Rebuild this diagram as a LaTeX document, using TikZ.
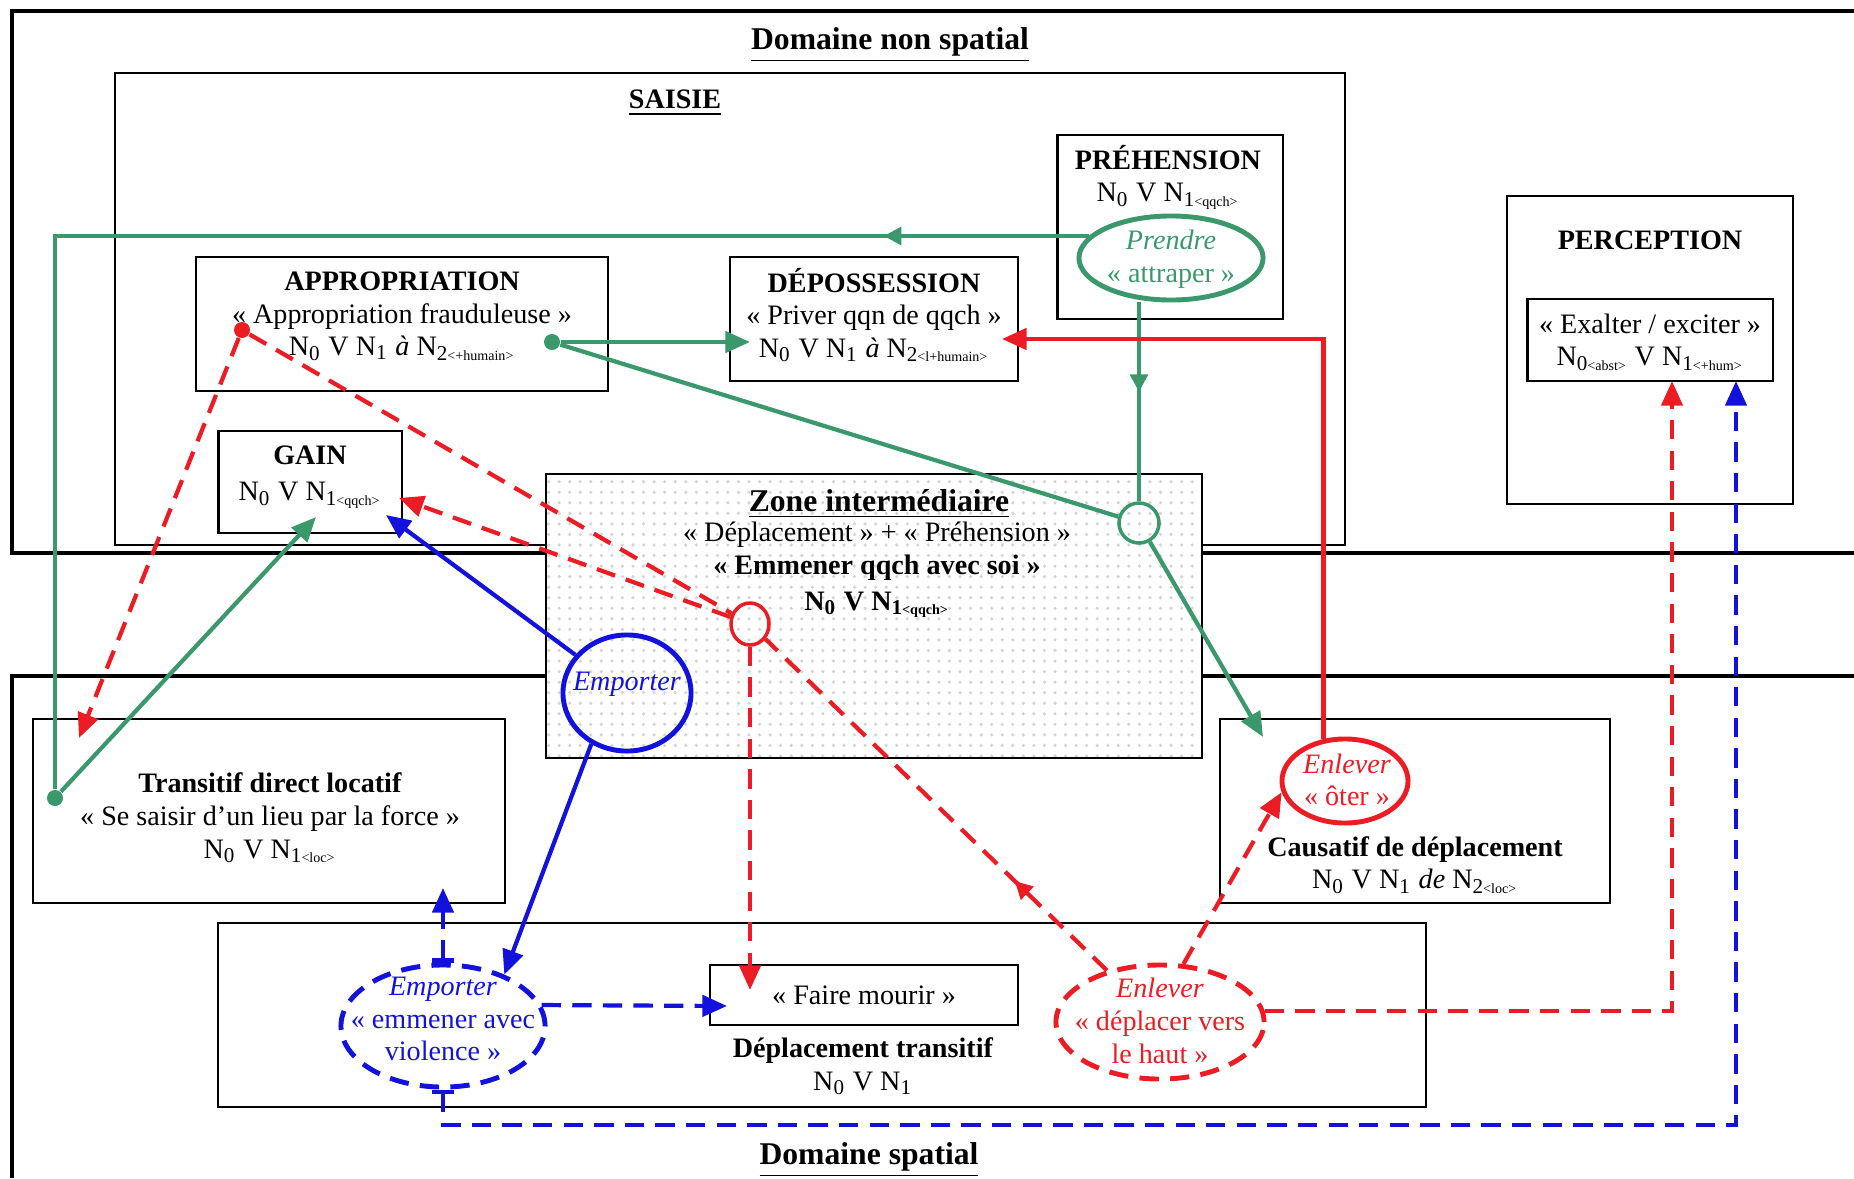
\documentclass[tikz,border=0pt]{standalone}
\usepackage{fontspec}
\setmainfont{Liberation Serif}
\usepackage{tikz}
\usetikzlibrary{arrows.meta, shapes.geometric, patterns, decorations.markings}
\definecolor{vertS}{RGB}{58,152,108}
\definecolor{rougeS}{RGB}{236,28,36}
\definecolor{bleuS}{RGB}{18,18,220}
\newcommand{\sousind}[2]{\textsubscript{#1{\fontsize{4}{4}\selectfont #2}}}

\begin{document}
\begin{tikzpicture}[
  x=0.01cm, y=-0.01cm,
  cadre/.style={line width=1.4pt, draw=black},
  boite/.style={draw, line width=0.6pt, rectangle, inner sep=0pt},
  txt/.style={align=center, font=\fontsize{8}{9.3}\selectfont, inner sep=0pt},
  titre/.style={font=\fontsize{9}{11}\selectfont\bfseries, inner sep=0pt},
  ell/.style={ellipse, inner sep=0pt, line width=1.4pt},
  pastille/.style={circle, inner sep=0pt, minimum size=0.16cm},
  trait/.style={line width=1.2pt},
  pointille/.style={dash pattern=on 5.5pt off 3.2pt},
  fleche/.style={-{Triangle[length=7pt,width=6pt]}},
  flechemil/.style={postaction={decorate}, decoration={markings,
      mark=at position #1 with {\arrow{Triangle[length=5pt,width=5pt]}}}}
]
  \useasboundingbox (0,0) rectangle (1854,1178);

  \draw[cadre] (1854,11) -- (12,11) -- (12,553) -- (1854,553);
  \draw[cadre] (1854,676) -- (12,676) -- (12,1178);
  \node[titre] (domNS) at (890,45) {\underline{Domaine non spatial}};
  \node[titre] (domS) at (869,1160) {\underline{Domaine spatial}};

  \node[boite, minimum width=12.30cm, minimum height=4.72cm] (saisie) at (730,309) {};
  \node[txt, font=\fontsize{8}{9.3}\selectfont\bfseries] (saisieT) at (675,103) {\underline{SAISIE}};
  \node[boite, minimum width=2.25cm, minimum height=1.84cm] (preh) at (1170,227) {};
  \node[boite, minimum width=4.11cm, minimum height=1.34cm] (appr) at (402,324) {};
  \node[boite, minimum width=2.88cm, minimum height=1.24cm] (dep) at (874,319) {};
  \node[boite, minimum width=1.83cm, minimum height=1.02cm] (gain) at (310,482) {};
  \node[boite, minimum width=2.86cm, minimum height=3.08cm] (percO) at (1650,350) {};
  \node[boite, minimum width=2.45cm, minimum height=0.82cm] (percI) at (1650,340) {};
  \node[boite, preaction={fill=white}, pattern=dots, pattern color=black!17,
        minimum width=6.56cm, minimum height=2.84cm] (zone) at (874,616) {};
  \node[boite, minimum width=4.72cm, minimum height=1.84cm] (trans) at (269,811) {};
  \node[boite, minimum width=3.89cm, minimum height=1.84cm] (caus) at (1415,811) {};
  \node[boite, minimum width=12.08cm, minimum height=1.84cm] (depl) at (822,1015) {};
  \node[boite, txt, minimum width=3.08cm, minimum height=0.60cm] (fm) at (864,995) {« Faire mourir »};

  \node[txt] (prehT) at (1168,177) {\textbf{PRÉHENSION}\\N\textsubscript{0} V N\sousind{1}{<qqch>}};
  \node[txt, text=vertS] (prendreT) at (1171,259) {\textit{Prendre}\\« attraper »};
  \node[txt] (apprT) at (402,316) {\textbf{APPROPRIATION}\\« Appropriation frauduleuse »\\N\textsubscript{0} V N\textsubscript{1} \textit{à} N\sousind{2}{<+humain>}};
  \node[txt] (depT) at (874,315) {\textbf{DÉPOSSESSION}\\« Priver qqn de qqch »\\N\textsubscript{0} V N\textsubscript{1} \textit{à} N\sousind{2}{<l+humain>}};
  \node[txt] (gainT) at (310,477) {\textbf{GAIN}\\[1pt]N\textsubscript{0} V N\sousind{1}{<qqch>}};
  \node[txt, font=\fontsize{8}{9.3}\selectfont\bfseries] (percT) at (1650,240) {PERCEPTION};
  \node[txt] (percIT) at (1650,342) {« Exalter / exciter »\\N\sousind{0}{<abst>} V N\sousind{1}{<+hum>}};
  \node[titre] (zoneT) at (879,504) {\underline{Zone intermédiaire}};
  \node[txt] (zoneT2) at (877,570) {« Déplacement » + « Préhension »\\\textbf{« Emmener qqch avec soi »}\\[1pt]\textbf{N\textsubscript{0} V N\sousind{1}{<qqch>}}};
  \node[txt, text=bleuS] (empT) at (627,684) {\textit{Emporter}};
  \node[txt] (transT) at (270,818) {\textbf{Transitif direct locatif}\\« Se saisir d’un lieu par la force »\\N\textsubscript{0} V N\sousind{1}{<loc>}};
  \node[txt] (causT) at (1415,865) {\textbf{Causatif de déplacement}\\N\textsubscript{0} V N\textsubscript{1} \textit{de} N\sousind{2}{<loc>}};
  \node[txt, text=rougeS] (enleverT) at (1347,780) {\textit{Enlever}\\« ôter »};
  \node[txt] (deplT) at (863,1066) {\textbf{Déplacement transitif}\\N\textsubscript{0} V N\textsubscript{1}};
  \node[txt, text=bleuS] (empDT) at (443,1019) {\textit{Emporter}\\« emmener avec\\violence »};
  \node[txt, text=rougeS] (enlDT) at (1160,1021) {\textit{Enlever}\\« déplacer vers\\le haut »};

  \node[ell, draw=vertS, minimum width=1.84cm, minimum height=0.84cm] (prendre) at (1171,258) {};
  \node[ell, draw=rougeS, minimum width=1.26cm, minimum height=0.84cm] (enlever) at (1345,781) {};
  \node[ell, draw=bleuS, minimum width=1.28cm, minimum height=1.16cm] (emp) at (627,693) {};
  \node[ell, draw=bleuS, pointille, minimum width=2.04cm, minimum height=1.22cm] (empD) at (443,1026) {};
  \node[ell, draw=rougeS, pointille, minimum width=2.08cm, minimum height=1.14cm] (enlD) at (1160,1022) {};
  \node[ell, draw=vertS, line width=1pt, minimum width=0.40cm, minimum height=0.40cm] (cvert) at (1139,523) {};
  \node[ell, draw=rougeS, line width=1pt, minimum width=0.38cm, minimum height=0.42cm] (cRouge) at (750,624) {};
  \node[pastille, fill=vertS] (dotA) at (552,342) {};
  \node[pastille, fill=vertS] (dotT) at (55,798) {};
  \node[pastille, fill=rougeS] (dotR) at (242,330) {};

  \coordinate (gainG) at (316,517);
  \coordinate (gainR) at (399,498);
  \coordinate (gainB) at (386,515);
  \coordinate (depG) at (750,342);
  \coordinate (depR) at (1002,339);
  \coordinate (causG) at (1263,737);
  \coordinate (transR) at (79,738);
  \coordinate (transB) at (443,888);
  \coordinate (fmR) at (750,990);
  \coordinate (fmB) at (727,1006);
  \coordinate (percR) at (1672,381);
  \coordinate (percB) at (1736,381);
  \coordinate (coinB) at (1736,1125);

  \draw[trait, vertS, flechemil=2.05cm] (prendre.165) -| (dotT);
  \draw[trait, vertS, fleche] (dotT) -- (gainG);
  \draw[trait, vertS, fleche] (dotA) -- (depG);
  \draw[trait, vertS] (dotA) -- (cvert);
  \draw[trait, vertS, fleche] (cvert) -- (causG);
  \draw[trait, vertS, flechemil=0.45] (cvert |- prendre.south) -- (cvert);

  \draw[trait, rougeS, fleche] (enlever.117) |- (depR);
  \draw[trait, rougeS, pointille, fleche] (dotR) -- (transR);
  \draw[trait, rougeS, pointille] (dotR) -- (cRouge);
  \draw[trait, rougeS, pointille, fleche] (cRouge) -- (gainR);
  \draw[trait, rougeS, pointille, fleche] (cRouge) -- (fmR);
  \draw[trait, rougeS, pointille, flechemil=0.27] (enlD) -- (cRouge);
  \draw[trait, rougeS, pointille, fleche] (enlD.68) -- (enlever.190);
  \draw[trait, rougeS, pointille, fleche] (enlD.6) -| (percR);

  \draw[trait, bleuS, fleche] (emp) -- (gainB);
  \draw[trait, bleuS, fleche] (emp.235) -- (empD.40);
  \draw[trait, bleuS, pointille, {Bar[width=6pt]}-{Triangle[length=7pt,width=6pt]}] (empD.north) -- (transB);
  \draw[trait, bleuS, pointille, {Bar[width=6pt]}-{Triangle[length=7pt,width=6pt]}] (empD.south) |- (coinB) -- (percB);
  \draw[trait, bleuS, pointille, fleche] (empD.12) -- (fmB);
\end{tikzpicture}
\end{document}
